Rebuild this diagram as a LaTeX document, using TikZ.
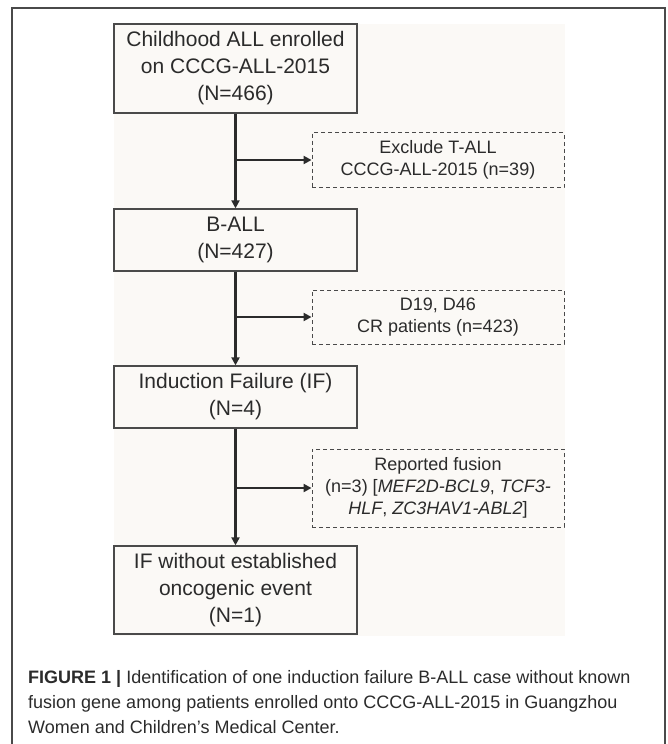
\documentclass[tikz,border=0pt]{standalone}
\usepackage{fontspec}
\setmainfont{Liberation Sans}
\usetikzlibrary{arrows.meta}
\definecolor{framegray}{HTML}{4A4A4A}
\definecolor{textgray}{HTML}{2B2B2B}
\definecolor{paper}{HTML}{FBF9F6}
\begin{document}
\begin{tikzpicture}[x=1pt, y=-1pt,
		box/.style={draw=framegray, line width=1.3pt, inner sep=0pt, align=center,
			text=textgray, font=\fontsize{21}{27}\selectfont, minimum width=243pt},
		dbox/.style={draw=framegray, line width=0.9pt, dash pattern=on 4pt off 3pt,
			inner sep=0pt, align=center, text=textgray,
			font=\fontsize{18}{22}\selectfont, minimum width=252pt},
		flow/.style={draw=textgray, line width=2.2pt,
			-{Triangle[length=8pt, width=8pt]}}]
		\useasboundingbox (0, 0) rectangle (667, 744);
		\fill[paper] (114, 24) rectangle (565, 636);
		\draw[framegray, line width=1.5pt] (12, 746) -- (12, 8) -- (665, 8) -- (665, 746);
		\node[box, minimum height=89pt] (enrol) at (235.5, 68.5)
			{Childhood ALL enrolled\\on CCCG-ALL-2015\\(N=466)};
		\node[dbox, minimum height=55pt] (tall) at (438, 160)
			{Exclude T-ALL\\CCCG-ALL-2015 (n=39)};
		\node[box, minimum height=62pt] (ball) at (235.5, 240) {B-ALL\\(N=427)};
		\node[dbox, minimum height=54pt] (cr) at (438, 317)
			{D19, D46\\CR patients (n=423)};
		\node[box, minimum height=62pt] (indf) at (235.5, 397)
			{Induction Failure (IF)\\(N=4)};
		\node[dbox, minimum height=78pt] (fus) at (438, 488)
			{Reported fusion\\(n=3) [\textit{MEF2D-BCL9}, \textit{TCF3-}\\\textit{HLF}, \textit{ZC3HAV1-ABL2}]};
		\node[box, minimum height=88pt] (noevt) at (235.5, 590)
			{IF without established\\oncogenic event\\(N=1)};
		\draw[flow] (enrol) -- (ball);
		\draw[flow] (ball) -- (indf);
		\draw[flow] (indf) -- (noevt);
		\draw[flow] (enrol.south |- tall.west) -- (tall.west);
		\draw[flow] (ball.south |- cr.west) -- (cr.west);
		\draw[flow] (indf.south |- fus.west) -- (fus.west);
		\node[anchor=base west, align=left, inner sep=0pt, text=textgray,
			font=\fontsize{18}{25}\selectfont] (capt) at (28, 733)
			{\textbf{FIGURE 1 |} Identification of one induction failure B-ALL case without known\\fusion gene among patients enrolled onto CCCG-ALL-2015 in Guangzhou\\Women and Children’s Medical Center.};
	\end{tikzpicture}
\end{document}
